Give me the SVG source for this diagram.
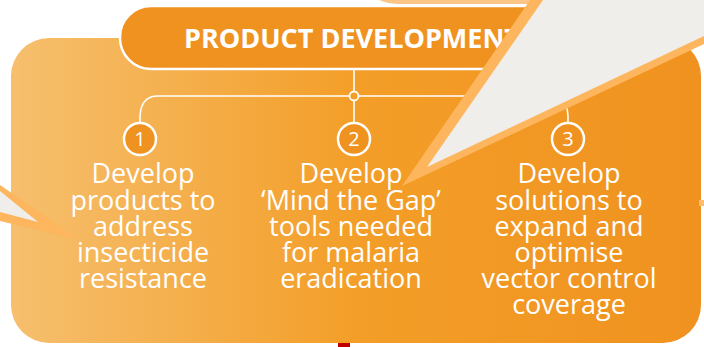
<svg xmlns="http://www.w3.org/2000/svg" width="704" height="347" viewBox="0 0 704 347">
  <defs>
    <linearGradient id="boxGrad" x1="0" y1="0" x2="1" y2="0">
      <stop offset="0" stop-color="#F6BF6E"/>
      <stop offset="0.5" stop-color="#F39E28"/>
      <stop offset="1" stop-color="#F0921F"/>
    </linearGradient>
    <style>
      .body { font-family: "Open Sans", "Liberation Sans", sans-serif; font-size: 27px; fill: #FFFFFF; text-anchor: middle; }
      .num { font-family: "Open Sans", "Liberation Sans", sans-serif; font-size: 20px; fill: #FFFFFF; text-anchor: middle; }
      .title { font-family: "Open Sans", "Liberation Sans", sans-serif; font-size: 27px; font-weight: bold; fill: #FFFFFF; }
      .conn { fill: none; stroke: #FFFFFF; stroke-width: 1.6; }
      .badge { fill: #F0921F; stroke: #FFFFFF; stroke-width: 2.5; }
      .band { fill: #FDB65E; }
      .grey { fill: #EFEEEA; }
    </style>
  </defs>

  <rect width="704" height="347" fill="#FFFFFF"/>

  <!-- main panel -->
  <g id="panel">
    <rect x="11" y="38" width="690" height="305" rx="38" ry="38" fill="url(#boxGrad)"/>
  </g>

  <!-- decorative fragments at edges -->
  <path d="M 379 0 Q 388 4 400 4 L 532 4 L 532 0 Z" fill="#FBC585"/>
  <rect x="699" y="200" width="5" height="6" fill="#FBBE70"/>
  <rect x="338" y="343" width="12" height="4" fill="#C00000"/>

  <!-- header -->
  <g id="header">
    <rect x="120" y="6" width="460" height="63" rx="31" ry="31" fill="#F0921F" stroke="#FFFFFF" stroke-width="2.5"/>
    <text class="title" x="184" y="48" textLength="336" lengthAdjust="spacingAndGlyphs">PRODUCT DEVELOPMENT</text>
  </g>

  <!-- connectors -->
  <g id="connectors">
    <path class="conn" d="M 354 69 V 91.5"/>
    <path class="conn" d="M 354 100.5 V 123"/>
    <path class="conn" d="M 349.5 96 H 158 Q 141 96 140 116 V 123"/>
    <path class="conn" d="M 358.5 96 H 550 Q 567 96 568 116 V 122"/>
  </g>

  <g id="hub">
    <circle cx="354" cy="96" r="4.5" fill="#F39E28" stroke="#FFFFFF" stroke-width="1.8"/>
  </g>

  <!-- item 1 -->
  <g id="item1">
    <circle class="badge" cx="140" cy="139" r="16"/>
    <text class="num" x="140" y="146">1</text>
    <text class="body" x="143" y="183.3">Develop</text>
    <text class="body" x="143" y="209.5">products to</text>
    <text class="body" x="143" y="235.7">address</text>
    <text class="body" x="143" y="262">insecticide</text>
    <text class="body" x="143" y="288">resistance</text>
  </g>

  <!-- item 2 -->
  <g id="item2">
    <circle class="badge" cx="354" cy="139" r="16"/>
    <text class="num" x="354" y="146">2</text>
    <text class="body" x="351" y="183.3">Develop</text>
    <text class="body" x="351" y="209.5">‘Mind the Gap’</text>
    <text class="body" x="351" y="235.7">tools needed</text>
    <text class="body" x="351" y="262">for malaria</text>
    <text class="body" x="351" y="288">eradication</text>
  </g>

  <!-- item 3 -->
  <g id="item3">
    <circle class="badge" cx="568" cy="139" r="16"/>
    <text class="num" x="568" y="146">3</text>
    <text class="body" x="569" y="183.3">Develop</text>
    <text class="body" x="569" y="209.5">solutions to</text>
    <text class="body" x="569" y="235.7">expand and</text>
    <text class="body" x="569" y="262">optimise</text>
    <text class="body" x="569" y="288">vector control</text>
    <text class="body" x="569" y="314">coverage</text>
  </g>

  <!-- callout wedges -->
  <g id="callout-right">
    <polygon class="band" points="402,186 530,0 704,0 704,44"/>
    <polygon class="grey" points="427,167 543,0 704,0 704,36"/>
  </g>
  <g id="callout-left">
    <polygon class="band" points="0,185 80,240 0,221"/>
    <polygon class="grey" points="0,191 38,222 0,212"/>
  </g>
</svg>
